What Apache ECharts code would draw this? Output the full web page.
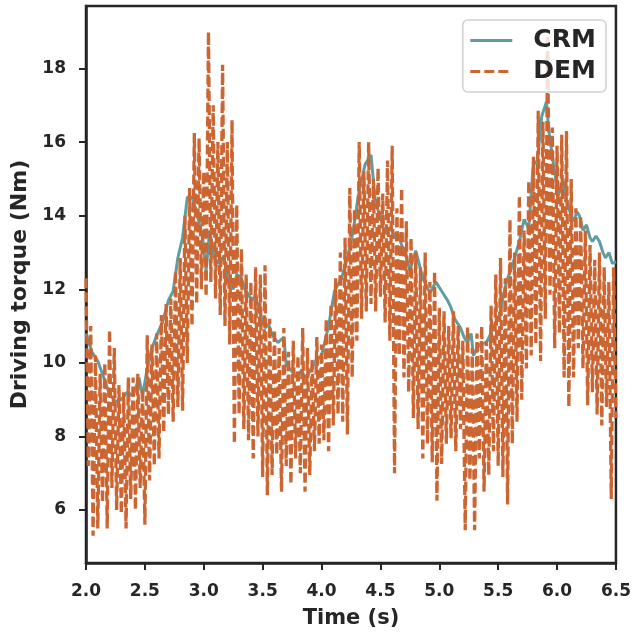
<!DOCTYPE html>
<html>
<head>
<meta charset="utf-8">
<script src="https://cdn.jsdelivr.net/npm/echarts@6/dist/echarts.min.js"></script>
<style>
  html, body { margin: 0; padding: 0; background: #ffffff; }
  #chart { width: 634px; height: 634px; }
</style>
</head>
<body>
<div id="chart"></div>
<script>
// CRM torque (time in s, torque in Nm)
const crmTime = [2.00, 2.05, 2.10, 2.15, 2.20, 2.25, 2.30, 2.35, 2.40, 2.45, 2.48, 2.52, 2.56, 2.60, 2.65, 2.70, 2.74, 2.78, 2.82, 2.86,
  2.90, 2.94, 2.99, 3.02, 3.05, 3.09, 3.13, 3.17, 3.21, 3.25, 3.28, 3.31, 3.36, 3.41, 3.44, 3.47, 3.52, 3.55, 3.58, 3.63,
  3.68, 3.70, 3.74, 3.79, 3.83, 3.86, 3.89, 3.95, 4.00, 4.06, 4.11, 4.17, 4.22, 4.27, 4.31, 4.37, 4.42, 4.46, 4.50, 4.53,
  4.56, 4.59, 4.62, 4.65, 4.68, 4.71, 4.75, 4.80, 4.86, 4.92, 4.97, 5.01, 5.07, 5.10, 5.13, 5.18, 5.21, 5.24, 5.27, 5.29,
  5.34, 5.40, 5.46, 5.51, 5.57, 5.63, 5.68, 5.72, 5.76, 5.80, 5.83, 5.87, 5.91, 5.93, 5.97, 6.01, 6.05, 6.09, 6.12, 6.14,
  6.17, 6.19, 6.22, 6.25, 6.28, 6.30, 6.33, 6.36, 6.39, 6.41, 6.44, 6.47, 6.50]
const crmTorque = [10.8, 10.3, 10.05, 9.6, 9.15, 8.95, 9.0, 9.2, 9.1, 9.6, 9.1, 9.85, 10.4, 10.75, 11.1, 11.7, 11.95, 12.85, 13.4, 14.5,
  14.5, 14.1, 13.4, 12.5, 13.6, 12.85, 12.7, 12.9, 12.2, 12.0, 12.4, 12.35, 11.95, 11.7, 11.85, 11.4, 10.95, 11.05, 10.77, 10.55,
  10.7, 9.95, 9.8, 9.6, 9.8, 9.6, 9.7, 10.05, 10.2, 11.0, 11.95, 12.3, 12.85, 13.6, 14.5, 15.4, 15.65, 14.3, 14.0, 13.6,
  13.5, 13.7, 13.4, 13.5, 13.2, 13.0, 12.5, 13.05, 12.3, 11.9, 12.2, 12.0, 11.7, 11.5, 11.2, 10.95, 10.7, 10.55, 10.8, 10.2,
  10.5, 10.55, 10.95, 11.3, 12.2, 12.75, 13.3, 13.9, 13.65, 15.5, 15.4, 16.7, 17.1, 16.3, 15.4, 14.55, 14.95, 14.3, 14.0, 13.85,
  14.1, 14.0, 13.6, 13.75, 13.4, 13.3, 13.45, 13.3, 13.0, 12.85, 13.0, 12.7, 12.75]

// DEM torque, one sample every 0.02 s from 2.00 s to 6.50 s
const demStart = 2.0
const demStep = 0.02
const demTorque = [
  12.3, 7.2, 11.0, 5.3, 10.2, 5.5, 9.7, 6.2, 10.0, 5.5,
  10.9, 6.6, 10.4, 6.0, 9.4, 5.9, 9.2, 5.5, 9.6, 6.3,
  9.6, 6.0, 9.7, 6.6, 9.3, 5.6, 10.75, 6.8, 10.5, 7.2,
  10.8, 7.4, 11.3, 8.1, 11.6, 8.6, 11.75, 8.4, 12.5, 8.8,
  12.85, 8.7, 14.0, 10.0, 14.75, 11.0, 16.25, 11.6, 16.1, 12.0,
  15.2, 11.8, 19.0, 12.2, 17.0, 11.75, 16.0, 11.3, 18.1, 11.0,
  16.0, 10.5, 16.6, 7.8, 14.3, 8.6, 13.1, 8.2, 12.4, 7.9,
  12.2, 7.4, 12.6, 8.0, 12.4, 6.9, 12.65, 6.4, 11.2, 6.95,
  10.9, 7.5, 10.4, 6.5, 10.95, 7.2, 10.3, 6.7, 10.6, 7.4,
  10.2, 7.0, 10.95, 6.5, 10.4, 6.95, 10.1, 7.6, 10.7, 7.8,
  10.5, 7.9, 11.2, 7.6, 11.6, 8.3, 12.3, 8.6, 13.0, 8.4,
  13.4, 8.05, 14.75, 9.6, 14.2, 10.6, 16.0, 11.2, 15.2, 11.4,
  16.0, 11.6, 15.0, 11.4, 15.3, 11.8, 14.6, 11.1, 15.5, 10.6,
  15.9, 7.0, 14.2, 10.2, 14.75, 9.6, 13.85, 9.2, 13.4, 8.5,
  13.0, 8.2, 12.6, 7.4, 13.0, 7.8, 12.2, 7.3, 12.5, 6.25,
  11.5, 7.25, 11.4, 7.8, 11.0, 7.95, 11.4, 7.6, 11.0, 8.2,
  10.6, 5.45, 11.0, 6.8, 10.4, 5.45, 10.8, 7.4, 11.0, 6.5,
  10.6, 6.95, 11.55, 7.6, 12.4, 7.2, 12.85, 6.9, 12.3, 6.15,
  13.9, 7.8, 13.0, 8.4, 14.55, 9.0, 13.6, 9.85, 14.95, 10.2,
  15.6, 10.5, 16.85, 10.05, 16.55, 11.2, 18.9, 11.85, 16.4, 10.4,
  15.9, 10.8, 16.2, 9.6, 16.3, 8.8, 15.0, 9.6, 14.2, 10.4,
  14.0, 9.85, 13.6, 8.85, 13.2, 9.2, 12.8, 8.6, 13.0, 8.3,
  12.6, 8.8, 12.2, 6.3, 12.6, 8.5
]

const yTicks = [6, 8, 10, 12, 14, 16, 18]

const ink = '#262626'
const font = 'DejaVu Sans'
const crmColor = '#5f9ea0'
const demColor = '#cb6532'

const crmData = crmTime.map((t, i) => [t, crmTorque[i]])
const demData = demTorque.map((v, i) => [+(demStart + i * demStep).toFixed(2), v])

const myChart = echarts.init(document.getElementById('chart'), null, { renderer: 'canvas' })

const option = {
  animation: false,
  backgroundColor: '#ffffff',
  grid: {
    left: 86,
    right: 14,
    top: 6,
    bottom: 69,
    show: true,
    borderColor: ink,
    borderWidth: 2.5,
    backgroundColor: 'transparent'
  },
  legend: {
    orient: 'vertical',
    right: 28,
    top: 20,
    padding: [7, 10, 7, 6],
    itemGap: 4,
    itemWidth: 42,
    itemHeight: 14,
    backgroundColor: 'rgba(255,255,255,0.8)',
    borderColor: '#d0d0d0',
    borderWidth: 1.5,
    borderRadius: 5,
    itemStyle: { opacity: 0 },
    lineStyle: { width: 3 },
    textStyle: {
      fontFamily: font,
      fontWeight: 'bold',
      fontSize: 25,
      color: ink,
      lineHeight: 27,
      padding: [0, 0, 0, 16]
    },
    data: ['CRM', 'DEM']
  },
  xAxis: {
    type: 'value',
    min: 2,
    max: 6.5,
    interval: 0.5,
    name: 'Time (s)',
    nameLocation: 'middle',
    nameGap: 45,
    nameTextStyle: { fontFamily: font, fontWeight: 'bold', fontSize: 21, color: ink },
    axisLine: { show: true, onZero: false, lineStyle: { color: ink, width: 2.5 } },
    axisTick: { show: true, inside: false, length: 7, lineStyle: { color: ink, width: 2 } },
    axisLabel: {
      margin: 20,
      fontFamily: font,
      fontWeight: 'bold',
      fontSize: 17,
      color: ink,
      formatter: (value) => value.toFixed(1)
    },
    splitLine: { show: false }
  },
  yAxis: {
    type: 'value',
    min: 4.56,
    max: 19.7,
    name: 'Driving torque (Nm)',
    nameLocation: 'middle',
    nameGap: 52,
    nameTextStyle: { fontFamily: font, fontWeight: 'bold', fontSize: 22, color: ink },
    axisLine: { show: true, onZero: false, lineStyle: { color: ink, width: 2.5 } },
    axisTick: { show: true, inside: false, length: 7, customValues: yTicks, lineStyle: { color: ink, width: 2 } },
    axisLabel: {
      margin: 20,
      fontFamily: font,
      fontWeight: 'bold',
      fontSize: 17,
      color: ink,
      customValues: yTicks
    },
    splitLine: { show: false }
  },
  series: [
    {
      name: 'CRM',
      type: 'line',
      data: crmData,
      symbol: 'none',
      showSymbol: false,
      color: crmColor,
      lineStyle: { width: 3, color: crmColor },
      z: 2
    },
    {
      name: 'DEM',
      type: 'line',
      data: demData,
      symbol: 'none',
      showSymbol: false,
      color: demColor,
      lineStyle: { width: 3.3, color: demColor, type: [10, 4] },
      z: 3
    }
  ]
}

myChart.setOption(option)
</script>
</body>
</html>
